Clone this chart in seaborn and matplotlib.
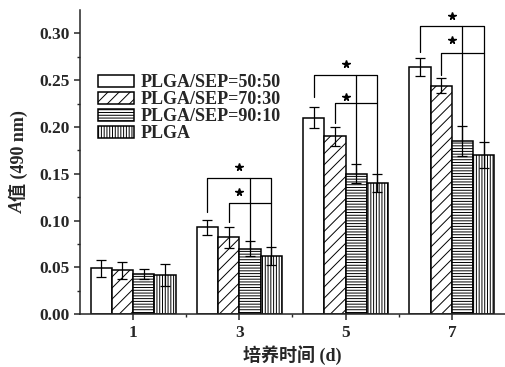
import numpy as np
import pandas as pd
import seaborn as sns
import matplotlib.pyplot as plt

days = ["1", "3", "5", "7"]
groups = ["PLGA/SEP=50:50", "PLGA/SEP=70:30", "PLGA/SEP=90:10", "PLGA"]
values = {
    "PLGA/SEP=50:50": [0.049, 0.093, 0.210, 0.264],
    "PLGA/SEP=70:30": [0.047, 0.082, 0.190, 0.244],
    "PLGA/SEP=90:10": [0.043, 0.070, 0.150, 0.185],
    "PLGA": [0.042, 0.062, 0.140, 0.170],
}
errors = {
    "PLGA/SEP=50:50": [0.009, 0.008, 0.011, 0.010],
    "PLGA/SEP=70:30": [0.009, 0.011, 0.010, 0.008],
    "PLGA/SEP=90:10": [0.005, 0.008, 0.010, 0.016],
    "PLGA": [0.012, 0.010, 0.010, 0.014],
}
hatches = ["", "///", "------", "||||||"]

# significance brackets for days 3, 5, 7 (index into days)
sig_days = [1, 2, 3]
upper_top = [0.145, 0.256, 0.308]
lower_top = [0.119, 0.226, 0.279]
bar1_start = [0.109, 0.232, 0.280]
bar2_start = [0.098, 0.204, 0.255]
upper_star = [0.157, 0.267, 0.318]
lower_star = [0.131, 0.232, 0.293]

sns.set_style("ticks")
plt.rcParams['font.family'] = ['Liberation Serif', 'Noto Sans CJK SC']
plt.rcParams['hatch.linewidth'] = 0.7

rows = []
for g in groups:
    for d, v in zip(days, values[g]):
        rows.append({"day": d, "group": g, "val": v})
df = pd.DataFrame(rows)

fig = plt.figure(figsize=(5.06, 3.67), dpi=100)
ax = fig.add_axes([0.158, 0.144, 0.84, 0.829])
sns.barplot(data=df, x="day", y="val", hue="group", order=days, hue_order=groups,
            errorbar=None, width=0.8, palette=["white"] * 4,
            edgecolor="black", linewidth=1.1, ax=ax)

# centres of the bars per group
bar_conts = list(ax.containers)[:4]
centers = {}
for gi, cont in enumerate(bar_conts):
    g = groups[gi]
    xs = []
    for bar in cont:
        bar.set_hatch(hatches[gi])
        bar.set_facecolor("white")
        bar.set_edgecolor("black")
        xs.append(bar.get_x() + bar.get_width() / 2)
    centers[g] = xs

for g in groups:
    ax.errorbar(centers[g], values[g], yerr=errors[g], fmt="none", ecolor="black",
                elinewidth=0.9, capsize=3.5, capthick=0.9, zorder=5)

lk = dict(color="black", lw=0.9, zorder=6)
for k, di in enumerate(sig_days):
    x1, x2, x3, x4 = [centers[g][di] for g in groups]
    ut, lt = upper_top[k], lower_top[k]
    ax.plot([x1, x1, x4, x4], [bar1_start[k], ut, ut, values[groups[3]][di]], **lk)
    ax.plot([x3, x3], [ut, values[groups[2]][di]], **lk)
    ax.plot([x2, x2, x4], [bar2_start[k], lt, lt], **lk)
    xc = (x1 + x4) / 2
    ax.plot([xc, xc], [upper_star[k], lower_star[k]], ls="none", marker="*",
            ms=5.5, color="black", zorder=7)

ax.set_xlim(-0.5, 3.5)
ax.set_ylim(0, 0.325)
ax.set_yticks(np.arange(0, 0.31, 0.05))
ax.set_yticklabels([f"{t:.2f}" for t in np.arange(0, 0.31, 0.05)])
ax.set_yticks(np.arange(0.025, 0.325, 0.05), minor=True)
ax.set_xticks([0.5, 1.5, 2.5], minor=True)
ax.tick_params(axis="both", which="major", labelsize=12.5, width=1.1, length=4, direction="out")
ax.tick_params(axis="both", which="minor", width=1.0, length=2, direction="out")
for lab in ax.get_xticklabels() + ax.get_yticklabels():
    lab.set_fontweight("bold")
ax.set_xlabel("培养时间 (d)", fontsize=13, fontweight="bold", labelpad=3)
ax.set_ylabel("")
for s in ["top", "right"]:
    ax.spines[s].set_visible(False)
for s in ["left", "bottom"]:
    ax.spines[s].set_linewidth(1.1)

leg = ax.legend(loc="upper left", bbox_to_anchor=(0.025, 0.812), frameon=False,
                prop={"size": 13, "weight": "bold"},
                handlelength=2.0, handleheight=0.6, handletextpad=0.35, labelspacing=0.0,
                borderaxespad=0)
for h, hat in zip(leg.legend_handles, hatches):
    h.set_hatch(hat)
    h.set_facecolor("white")
    h.set_edgecolor("black")

# y label: italic A followed by the rest, centred on the axes
xl = 0.036
tA = fig.text(xl, 0, "A", rotation=90, style="italic", fontweight="bold", fontsize=13,
              ha="center", va="bottom")
tR = fig.text(xl, 0, "值 (490 nm)", rotation=90, fontweight="bold", fontsize=13,
              ha="center", va="bottom")
fig.canvas.draw()
r = fig.canvas.get_renderer()
hA = tA.get_window_extent(r).height / fig.bbox.height
hR = tR.get_window_extent(r).height / fig.bbox.height
yc = 0.144 + 0.829 / 2
y0 = yc - (hA + hR) / 2
tA.set_y(y0)
tR.set_y(y0 + hA)

fig.savefig("out.png", dpi=100)
